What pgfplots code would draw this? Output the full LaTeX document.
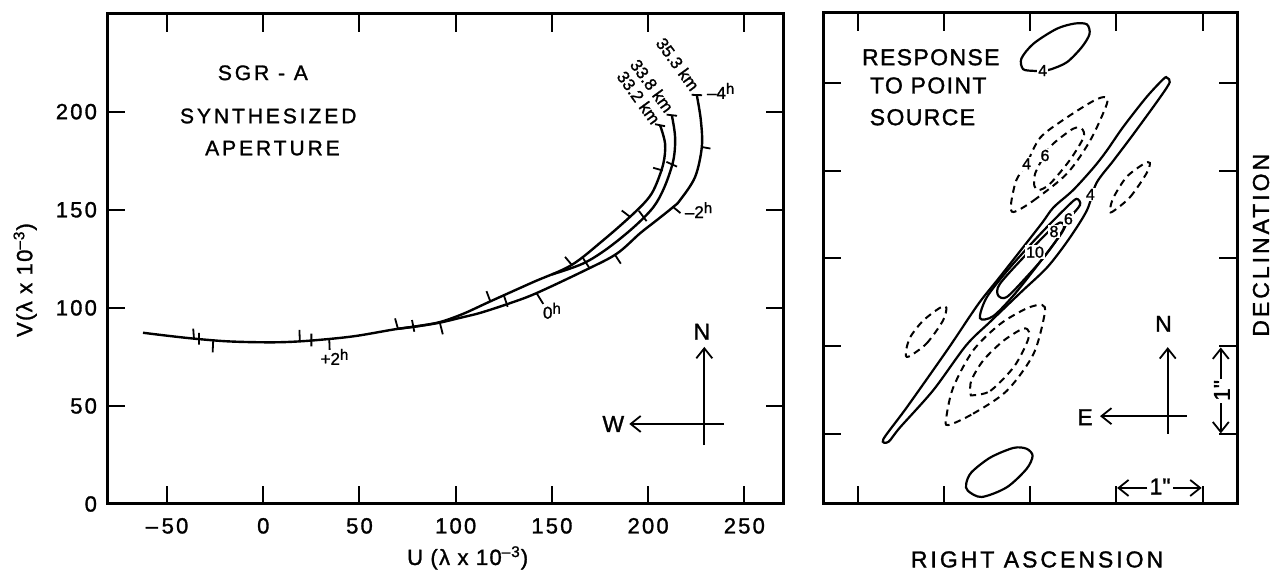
\documentclass[border=0pt]{standalone}
\usepackage{fontspec}
\setmainfont{Liberation Sans}[FakeBold=1.3]
\usepackage{pgfplots}
\pgfplotsset{compat=1.18}
\usetikzlibrary{arrows.meta}

\newcommand\tkl{\fontsize{11}{13}\selectfont\addfontfeatures{LetterSpace=10}}
\newcommand\lbl{\fontsize{11.5}{13}\selectfont\addfontfeatures{LetterSpace=8}}
\newcommand\sml{\fontsize{8.5}{10}\selectfont}
\newcommand\ctl{\fontsize{8}{9}\selectfont}
\newcommand\hr[1]{#1\raisebox{0.55ex}{\fontsize{7.5}{8}\selectfont h}}

\begin{document}
\begin{tikzpicture}
\path[use as bounding box] (-53.5pt,-33.5pt) rectangle (583pt,252pt);

% ---------------- left: synthesized aperture (u,v)
\begin{axis}[
  at={(0pt,0pt)}, anchor=south west,
  scale only axis, width=338.3pt, height=245pt,
  xmin=-81.2, xmax=270.4, ymin=0, ymax=249.8,
  xtick={-50,0,50,100,150,200,250},
  xticklabels={–\,50,0,50,100,150,200,250},
  ytick={0,50,100,150,200},
  yticklabels={0,50,100,150,200},
  tick align=inside, tick pos=both, major tick length=9pt,
  tick style={black, line width=1pt},
  axis line style={line width=1.5pt},
  tick label style={font=\tkl},
  xticklabel style={yshift=-3.5pt},
  yticklabel style={xshift=-1.5pt},
  xlabel={U (λ x 10\textsuperscript{–3})},
  ylabel={V(λ x 10\textsuperscript{–3})},
  label style={font=\fontsize{11}{13}\selectfont\addfontfeatures{LetterSpace=6}},
  xlabel style={at={(axis description cs:0.533,-0.11)}, anchor=center},
  ylabel style={at={(axis description cs:-0.121,0.457)}, anchor=center},
]

% 33.2 km (full track, carries the common trunk)
\addplot[line width=1.2pt, smooth, tension=0.55] coordinates {
  (-62.5,87.3) (-50,85.8) (-36,84.3) (-20,83.0) (-5,82.5) (10,82.5)
  (26,83.4) (47,85.5) (68,89.0) (81,90.8) (92,92.8) (104,97.0) (118,103.3)
  (140,113.0) (160,121.7) (176.7,134.5) (190.6,146.4) (199.3,154.9)
  (203.6,161.6) (207.9,173.5) (208.8,183.7) (206.2,193.1)};
% 33.8 km
\addplot[line width=1.2pt, smooth, tension=0.55] coordinates {
  (150,117.0) (166,122.5) (178.5,130.0) (192.4,141.0) (202.7,151.3)
  (208.5,161.6) (213.1,175.2) (214.0,187.1) (212.3,198.2)};
% 35.3 km
\addplot[line width=1.2pt, smooth, tension=0.55] coordinates {
  (70,89.3) (81,90.7) (92,92.5) (104,95.3) (113,97.5) (128,102.3) (142,107.5)
  (168,119.5) (183.7,127.6) (195.8,138.0) (204.5,144.7) (213,151.4)
  (216.6,154.9) (224.4,166.7) (227.9,182.0) (227.4,195.6) (225.3,208.4)};

% hour marks on the three tracks
\addplot[line width=0.9pt, unbounded coords=jump] coordinates {
  (-36,84.3) (-36.4,89.4) (nan,nan)
  (-33.4,81.2) (-33.4,87.2) (nan,nan)
  (-26,83.5) (-26.3,77.3) (nan,nan)
  (19,83.0) (18.8,88.8) (nan,nan)
  (25,80.3) (25,86.8) (nan,nan)
  (34.3,83.8) (34.5,78.6) (nan,nan)
  (70,89.3) (68.5,94.6) (nan,nan)
  (78.5,87.8) (77.3,93.8) (nan,nan)
  (91.8,92.3) (93.3,86.5) (nan,nan)
  (118,103.3) (116,108.5) (nan,nan)
  (127,100.5) (125,106.5) (nan,nan)
  (142,107.5) (145.5,102.0) (nan,nan)
  (160.5,121.7) (156.8,126.0) (nan,nan)
  (169.8,119.8) (166,125.6) (nan,nan)
  (182.8,127.0) (185.8,122.5) (nan,nan)
  (190.6,146.4) (186.3,149.6) (nan,nan)
  (199.2,144.2) (195.2,149.4) (nan,nan)
  (213,151.4) (216.8,148.3) (nan,nan)
  (207.6,170.0) (202.6,171.4) (nan,nan)
  (209.5,174.4) (215,172.0) (nan,nan)
  (227.8,182.0) (232.4,181.2) (nan,nan)
  (203.6,193.6) (208.8,192.6) (nan,nan)
  (209.6,198.5) (215,197.9) (nan,nan)
  (222.6,208.6) (228,208.4)};

\node[font=\sml] at (axis cs:37,75) {\hr{+2}};
\node[font=\sml] at (axis cs:150,98.5) {\hr{0}};
\node[font=\sml] at (axis cs:226.2,149.8) {\hr{–2}};
\node[font=\sml] at (axis cs:237.7,210.6) {\hr{–4}};
\node[font=\sml, rotate=-54, inner sep=0pt] at (axis cs:215.4,224.2) {35.3 km};
\node[font=\sml, rotate=-54, inner sep=0pt] at (axis cs:202.0,213.2) {33.8 km};
\node[font=\sml, rotate=-54, inner sep=0pt] at (axis cs:195.1,207.2) {33.2 km};

\node[font=\fontsize{10.5}{12}\selectfont\addfontfeatures{LetterSpace=14}] at (axis cs:-0.2,219.8) {SGR - A};
\node[font=\fontsize{10.5}{12}\selectfont\addfontfeatures{LetterSpace=14}] at (axis cs:2.6,197.8) {SYNTHESIZED};
\node[font=\fontsize{10.5}{12}\selectfont\addfontfeatures{LetterSpace=14}] at (axis cs:4.8,181.4) {APERTURE};

% orientation
\draw[line width=0.9pt, -{Straight Barb[length=5pt,width=8pt]}] (axis cs:229.2,30) -- (axis cs:229.2,80.1);
\draw[line width=0.9pt, -{Straight Barb[length=5pt,width=8pt]}] (axis cs:239.5,40.8) -- (axis cs:190.2,40.8);
\node[font=\lbl] at (axis cs:227.9,87.8) {N};
\node[font=\lbl] at (axis cs:181.9,40.8) {W};
\end{axis}

% ---------------- right: response to a point source
\begin{axis}[
  at={(358pt,0pt)}, anchor=south west,
  scale only axis, width=207pt, height=245.5pt,
  xmin=-2.4, xmax=2.4, ymin=-2.8, ymax=2.8,
  xtick={-2,-1,0,1,2}, ytick={-2,-1,0,1,2},
  xticklabels={}, yticklabels={},
  tick align=inside, tick pos=both, major tick length=9pt,
  tick style={black, line width=1pt},
  axis line style={line width=1.5pt},
  xlabel={RIGHT ASCENSION}, ylabel={DECLINATION},
  label style={font=\fontsize{11.5}{13}\selectfont\addfontfeatures{LetterSpace=13}},
  xlabel style={at={(axis description cs:0.517,-0.113)}, anchor=center},
  ylabel style={at={(axis description cs:1.058,0.527)}, anchor=center},
]
% positive contours
\addplot[line width=1.1pt, smooth cycle] coordinates {
  (0.25,2.16) (0.43,2.24) (0.60,2.41) (0.69,2.56) (0.66,2.67) (0.52,2.68)
  (0.31,2.62) (0.04,2.45) (-0.10,2.28) (-0.08,2.16) (0.04,2.14) (0.15,2.14)};
\addplot[line width=1.1pt, smooth cycle] coordinates {
  (-0.72,-2.65) (-0.56,-2.72) (-0.27,-2.61) (-0.04,-2.40) (0.03,-2.25)
  (-0.04,-2.17) (-0.19,-2.16) (-0.46,-2.27) (-0.68,-2.44) (-0.74,-2.57)};
\addplot[line width=1.1pt, smooth cycle, tension=0.5] coordinates {
  (-1.70,-2.06) (-1.64,-2.09) (-1.51,-1.93) (-1.12,-1.50) (-0.74,-0.99)
  (-0.46,-0.72) (-0.10,-0.38) (0.20,-0.10) (0.45,0.22) (0.66,0.55)
  (0.77,0.86) (0.97,1.12) (1.20,1.42) (1.51,1.84) (1.62,2.01) (1.59,2.06)
  (1.55,2.05) (1.35,1.84) (1.08,1.50) (0.89,1.23) (0.74,1.04) (0.50,0.78)
  (0.27,0.58) (0.12,0.38) (-0.35,-0.21) (-0.60,-0.52) (-0.95,-1.03)
  (-1.43,-1.70)};
\addplot[line width=1.1pt, smooth cycle] coordinates {
  (-0.58,-0.68) (-0.50,-0.44) (-0.23,-0.10) (0.12,0.28) (0.43,0.59)
  (0.54,0.68) (0.58,0.61) (0.45,0.45) (0.36,0.28) (0.10,-0.06)
  (-0.19,-0.42) (-0.43,-0.66)};
\addplot[line width=1.1pt, smooth cycle] coordinates {
  (-0.37,-0.42) (-0.35,-0.29) (-0.04,0.05) (0.23,0.32) (0.35,0.41)
  (0.39,0.34) (0.19,0.05) (-0.04,-0.21) (-0.27,-0.44)};
% negative contours
\addplot[line width=1pt, dash pattern=on 3.5pt off 2.5pt, smooth cycle] coordinates {
  (-0.19,0.53) (0.04,0.66) (0.43,0.97) (0.70,1.35) (0.89,1.76) (0.87,1.84)
  (0.74,1.80) (0.43,1.61) (0.12,1.38) (-0.04,1.08) (-0.16,0.89) (-0.22,0.62)};
\addplot[line width=1pt, dash pattern=on 3.5pt off 2.5pt, smooth cycle] coordinates {
  (0.10,0.78) (0.23,0.85) (0.46,1.12) (0.62,1.38) (0.60,1.48) (0.50,1.48)
  (0.27,1.31) (0.17,1.18) (0.06,0.97) (0.05,0.83)};
\addplot[line width=1pt, dash pattern=on 3.5pt off 2.5pt, smooth cycle] coordinates {
  (0.95,0.53) (1.16,0.70) (1.35,0.97) (1.39,1.09) (1.32,1.08) (1.12,0.93)
  (0.97,0.70) (0.93,0.57)};
\addplot[line width=1pt, dash pattern=on 3.5pt off 2.5pt, smooth cycle] coordinates {
  (-1.41,-1.12) (-1.20,-0.97) (-1.01,-0.71) (-0.97,-0.56) (-1.04,-0.56)
  (-1.24,-0.71) (-1.39,-0.90) (-1.44,-1.07)};
\addplot[line width=1pt, dash pattern=on 3.5pt off 2.5pt, smooth cycle] coordinates {
  (-0.95,-1.90) (-0.66,-1.77) (-0.27,-1.51) (0.04,-1.09) (0.17,-0.63)
  (0.14,-0.53) (-0.04,-0.57) (-0.35,-0.75) (-0.66,-1.05) (-0.89,-1.47)
  (-0.97,-1.81)};
\addplot[line width=1pt, dash pattern=on 3.5pt off 2.5pt, smooth cycle] coordinates {
  (-0.66,-1.56) (-0.46,-1.51) (-0.19,-1.24) (-0.04,-0.97) (-0.01,-0.84)
  (-0.08,-0.80) (-0.31,-0.94) (-0.54,-1.16) (-0.68,-1.39) (-0.69,-1.54)};

% contour labels
\tikzset{clab/.style={fill=white, inner sep=0.6pt, font=\ctl}}
\node[clab] at (axis cs:0.147,2.144) {4};
\node[clab] at (axis cs:0.70,0.73) {4};
\node[clab] at (axis cs:0.445,0.452) {6};
\node[clab] at (axis cs:0.278,0.308) {8};
\node[clab] at (axis cs:0.058,0.072) {10};
\node[clab] at (axis cs:-0.039,1.080) {4};
\node[clab] at (axis cs:0.174,1.175) {6};

\node[font=\fontsize{11.5}{13}\selectfont\addfontfeatures{LetterSpace=6}] at (axis cs:-1.15,2.295) {RESPONSE};
\node[font=\fontsize{11.5}{13}\selectfont\addfontfeatures{LetterSpace=6}] at (axis cs:-1.18,1.973) {TO POINT};
\node[font=\fontsize{11.5}{13}\selectfont\addfontfeatures{LetterSpace=6}] at (axis cs:-1.247,1.611) {SOURCE};

% orientation
\draw[line width=0.9pt, -{Straight Barb[length=5pt,width=8pt]}] (axis cs:1.597,-2.0) -- (axis cs:1.597,-1.011);
\draw[line width=0.9pt, -{Straight Barb[length=5pt,width=8pt]}] (axis cs:1.818,-1.798) -- (axis cs:0.812,-1.798);
\node[font=\lbl] at (axis cs:1.547,-0.745) {N};
\node[font=\lbl] at (axis cs:0.638,-1.81) {E};

% one arcsecond scales
\draw[line width=0.9pt, -{Straight Barb[length=5pt,width=8pt]}] (axis cs:1.36,-2.617) -- (axis cs:1.01,-2.617);
\draw[line width=0.9pt, -{Straight Barb[length=5pt,width=8pt]}] (axis cs:1.66,-2.617) -- (axis cs:1.99,-2.617);
\node[font=\lbl] at (axis cs:1.508,-2.60) {1\textquotedbl};
\draw[line width=0.9pt, -{Straight Barb[length=5pt,width=8pt]}] (axis cs:2.212,-1.37) -- (axis cs:2.212,-1.015);
\draw[line width=0.9pt, -{Straight Barb[length=5pt,width=8pt]}] (axis cs:2.212,-1.65) -- (axis cs:2.212,-1.995);
\node[font=\lbl, rotate=90] at (axis cs:2.225,-1.505) {1\textquotedbl};
\end{axis}
\end{tikzpicture}
\end{document}
